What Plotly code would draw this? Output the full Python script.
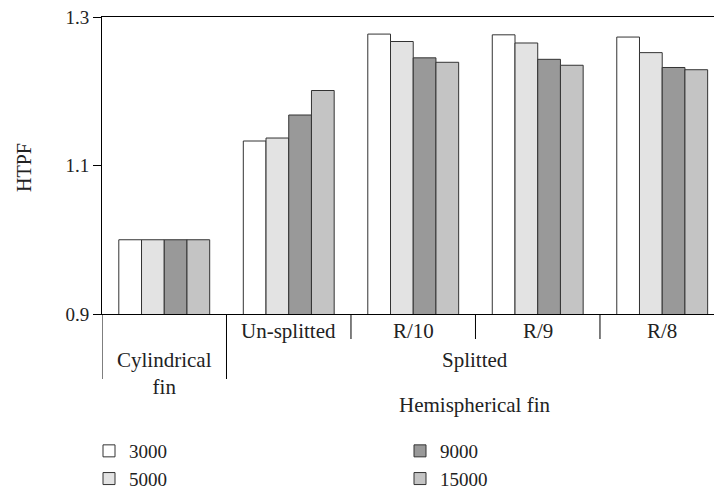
import plotly.graph_objects as go

categories = ["Cylindrical fin", "Un-splitted", "R/10", "R/9", "R/8"]
series_names = ["3000", "5000", "9000", "15000"]
values_3000 = [1.000, 1.133, 1.277, 1.276, 1.273]
values_5000 = [1.000, 1.137, 1.267, 1.265, 1.252]
values_9000 = [1.000, 1.168, 1.245, 1.243, 1.232]
values_15000 = [1.000, 1.201, 1.239, 1.235, 1.229]
y_ticks = [0.9, 1.1, 1.3]
y_tick_labels = ["0.9", "1.1", "1.3"]

colors = ["#ffffff", "#e3e3e3", "#999999", "#c4c4c4"]
legends = ["legend", "legend", "legend2", "legend2"]
all_values = [values_3000, values_5000, values_9000, values_15000]

FONT = "Liberation Serif"
FS = 19
LFS = 21
W, H = 714, 489
L, T, B = 102, 17, 175
plot_h = H - T - B

fig = go.Figure()
for name, vals, col, lg in zip(series_names, all_values, colors, legends):
    fig.add_trace(go.Bar(
        x=categories, y=vals, name=name, legend=lg,
        marker=dict(color=col, line=dict(color="#333333", width=1)),
    ))

def py_to_paper(py):
    return (H - B - py) / plot_h

shapes = []
for xv, y_end in [(-0.5, 379), (0.5, 379), (1.5, 339), (2.5, 339), (3.5, 339)]:
    shapes.append(dict(type="line", xref="x", yref="paper", x0=xv, x1=xv,
                       y0=0, y1=py_to_paper(y_end),
                       line=dict(color="black", width=1)))

lab_font = dict(family=FONT, size=LFS, color="#222222")
annotations = []
for i, lab in enumerate(categories[1:], start=1):
    annotations.append(dict(x=i, y=py_to_paper(331.5), xref="x", yref="paper",
                            text=lab, showarrow=False, yanchor="middle", font=lab_font))
annotations.append(dict(x=0, y=py_to_paper(373), xref="x", yref="paper",
                        text="Cylindrical<br>fin", showarrow=False, yanchor="middle",
                        font=lab_font))
annotations.append(dict(x=2.5, y=py_to_paper(359.5), xref="x", yref="paper",
                        text="Splitted", showarrow=False, yanchor="middle", font=lab_font))
annotations.append(dict(x=2.5, y=py_to_paper(404.5), xref="x", yref="paper",
                        text="Hemispherical fin", showarrow=False, yanchor="middle",
                        font=lab_font))
annotations.append(dict(x=(24 - L) / (W - L), y=py_to_paper(168), xref="paper", yref="paper",
                        text="HTPF", textangle=-90, showarrow=False,
                        xanchor="center", yanchor="middle",
                        font=dict(family=FONT, size=20, color="#222222")))

fig.update_layout(
    width=W, height=H,
    margin=dict(l=L, r=0, t=T, b=B, pad=0, autoexpand=False),
    paper_bgcolor="white", plot_bgcolor="white",
    font=dict(family=FONT, size=FS, color="#222222"),
    barmode="group", bargap=0.27, bargroupgap=0,
    showlegend=True,
    legend=dict(xref="container", yref="container", x=89 / W, y=1 - 432 / H,
                xanchor="left", yanchor="top", bgcolor="rgba(0,0,0,0)",
                font=dict(family=FONT, size=FS), tracegroupgap=0),
    legend2=dict(xref="container", yref="container", x=400 / W, y=1 - 432 / H,
                 xanchor="left", yanchor="top", bgcolor="rgba(0,0,0,0)",
                 font=dict(family=FONT, size=FS), tracegroupgap=0),
    shapes=shapes, annotations=annotations,
)
fig.update_xaxes(range=[-0.5, 4.416], showticklabels=False, ticks="",
                 showline=True, linecolor="black", linewidth=1, mirror=True,
                 showgrid=False, zeroline=False)
fig.update_yaxes(range=[0.9, 1.3], tickvals=y_ticks, ticktext=y_tick_labels,
                 ticks="outside", ticklen=8, tickcolor="black",
                 showline=True, linecolor="black", linewidth=1, mirror=False,
                 showgrid=False, zeroline=False)

fig.write_html("out.html")
